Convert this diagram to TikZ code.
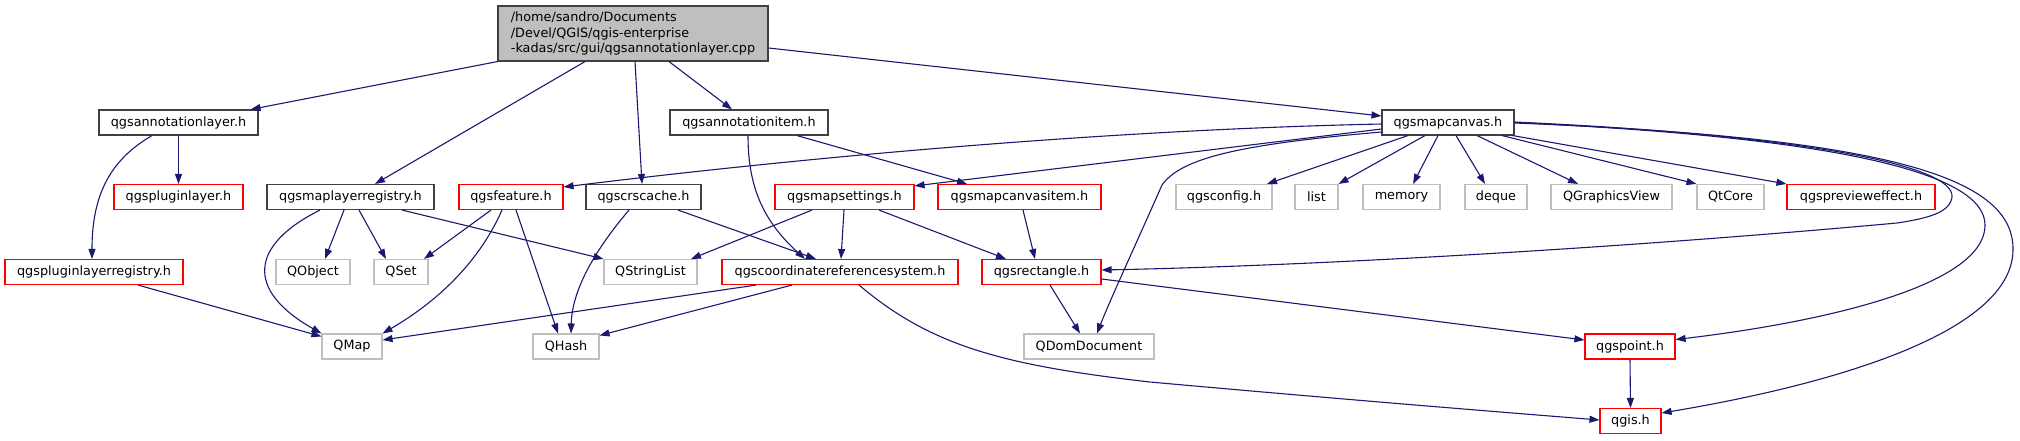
\documentclass[tikz,border=0pt]{standalone}
\usepackage{fontspec}
\setmainfont{DejaVu Sans}
\usetikzlibrary{arrows.meta}
\definecolor{edgec}{HTML}{191970}
\definecolor{greyc}{HTML}{BFBFBF}
\definecolor{darkc}{HTML}{404040}
\definecolor{redc}{HTML}{FF0000}
\tikzset{
  base/.style={rectangle, inner sep=0pt, minimum height=25pt, font=\fontsize{12.8pt}{15.5pt}\selectfont, text=black, line width=1.1pt, fill=white},
  docbox/.style={base, draw=darkc},
  redbox/.style={base, draw=redc},
  extbox/.style={base, draw=greyc},
  rootbox/.style={base, draw=darkc, fill=greyc, align=left, minimum height=55pt},
  dep/.style={draw=edgec, line width=1.1pt, -{Triangle[length=10pt,width=7pt]}},
}
\begin{document}
\begin{tikzpicture}[x=1pt,y=-1pt]
\useasboundingbox (0,0) rectangle (2020,440);
% row 1
\node[rootbox, minimum width=270pt] (root) at (633,33.5) {/home/sandro/Documents\\/Devel/QGIS/qgis-enterprise\\-kadas/src/gui/qgsannotationlayer.cpp};
% row 2
\node[docbox, minimum width=159pt] (alayer) at (178.5,122.5) {qgsannotationlayer.h};
\node[docbox, minimum width=158pt] (aitem) at (749,122.5) {qgsannotationitem.h};
\node[docbox, minimum width=132pt] (mcanvas) at (1448,122.5) {qgsmapcanvas.h};
% row 3
\node[redbox, minimum width=129pt] (plugin) at (178.5,197) {qgspluginlayer.h};
\node[docbox, minimum width=167pt] (mlreg) at (350.5,197) {qgsmaplayerregistry.h};
\node[redbox, minimum width=104pt] (feature) at (511,197) {qgsfeature.h};
\node[docbox, minimum width=115pt] (crscache) at (643.5,197) {qgscrscache.h};
\node[redbox, minimum width=139pt] (msettings) at (844.5,197) {qgsmapsettings.h};
\node[redbox, minimum width=163pt] (mcitem) at (1019.5,197) {qgsmapcanvasitem.h};
\node[extbox, minimum width=96pt] (config) at (1224,197) {qgsconfig.h};
\node[extbox, minimum width=43pt] (list) at (1316.5,197) {list};
\node[extbox, minimum width=77pt] (memory) at (1401.5,197) {memory};
\node[extbox, minimum width=62pt] (deque) at (1496,197) {deque};
\node[extbox, minimum width=121pt] (qgv) at (1611.5,197) {QGraphicsView};
\node[extbox, minimum width=67pt] (qtcore) at (1730.5,197) {QtCore};
\node[redbox, minimum width=148pt] (preview) at (1861,197) {qgspreview{}effect.h};
% row 4
\node[redbox, minimum width=178pt] (plreg) at (94,272) {qgspluginlayerregistry.h};
\node[extbox, minimum width=74pt] (qobject) at (313,272) {QObject};
\node[extbox, minimum width=54pt] (qset) at (401,272) {QSet};
\node[extbox, minimum width=93pt] (qsl) at (650.5,272) {QStringList};
\node[redbox, minimum width=236pt] (crs) at (840,272) {qgscoordinatereferencesystem.h};
\node[redbox, minimum width=119pt] (rect) at (1041.5,272) {qgsrectangle.h};
% row 5
\node[extbox, minimum width=60pt] (qmap) at (352,346.5) {QMap};
\node[extbox, minimum width=66pt] (qhash) at (566,346.5) {QHash};
\node[extbox, minimum width=130pt] (qdom) at (1089,346.5) {QDomDocument};
\node[redbox, minimum width=90pt] (point) at (1630,346.5) {qgspoint.h};
% row 6
\node[redbox, minimum width=61pt] (qgis) at (1630.5,421) {qgis.h};

% root edges
\draw[dep] (root.south west) -- ([xshift=-8pt]alayer.north east);
\draw[dep] ([xshift=-48pt]root.south) -- ([xshift=24.5pt]mlreg.north);
\draw[dep] ([xshift=2pt]root.south) -- ([xshift=-1.5pt]crscache.north);
\draw[dep] ([xshift=36pt]root.south) -- ([xshift=-17pt]aitem.north);
\draw[dep] ([yshift=-14.5pt]root.east) -- ([yshift=6.5pt]mcanvas.west);
% annotation layer
\draw[dep] (alayer.south) -- (plugin.north);
\draw[dep] ([xshift=-26.5pt]alayer.south) .. controls (110,160) and (92,195) .. ([xshift=-2pt]plreg.north);
% annotation item
\draw[dep] ([xshift=-1pt]aitem.south) .. controls (748,185) and (762,220) .. ([xshift=-35pt]crs.north);
\draw[dep] ([xshift=48pt]aitem.south) -- ([xshift=-52.5pt]mcitem.north);
% map canvas
\draw[dep] ([yshift=-1.5pt]mcanvas.west) .. controls (1100,130) and (800,158) .. ([yshift=-3pt]feature.north east);
\draw[dep] ([yshift=-6.5pt]mcanvas.west) -- ([yshift=-2pt]msettings.north east);
\draw[dep] ([yshift=-9.5pt]mcanvas.west) .. controls (1230,145) and (1180,160) .. (1162,185) .. controls (1140,235) and (1110,300) .. ([xshift=8pt]qdom.north);
\draw[dep] ([xshift=-40pt]mcanvas.south) -- ([xshift=43pt]config.north);
\draw[dep] ([xshift=-23pt]mcanvas.south) -- (list.north east);
\draw[dep] ([xshift=-10pt]mcanvas.south) -- ([xshift=11.5pt]memory.north);
\draw[dep] ([xshift=8pt]mcanvas.south) -- ([xshift=-11pt]deque.north);
\draw[dep] ([xshift=29pt]mcanvas.south) -- ([xshift=-33.5pt]qgv.north);
\draw[dep] ([xshift=54pt]mcanvas.south) -- (qtcore.north west);
\draw[dep] ([xshift=-2pt]mcanvas.south east) -- (preview.north west);
\draw[dep] ([yshift=0.5pt]mcanvas.east) .. controls (1800,135) and (1955,165) .. (1952,197) .. controls (1950,212) and (1930,218) .. (1897,223) .. controls (1600,250) and (1300,266) .. ([yshift=2pt]rect.east);
\draw[dep] (mcanvas.east) .. controls (1850,138) and (1985,175) .. (1985,225) .. controls (1985,290) and (1800,325) .. ([yshift=7pt]point.east);
\draw[dep] ([yshift=-0.5pt]mcanvas.east) .. controls (1900,138) and (2014,180) .. (2013,250) .. controls (2012,340) and (1800,390) .. ([yshift=8pt]qgis.east);
% map layer registry
\draw[dep] ([xshift=-30.5pt]mlreg.south) .. controls (250,245) and (245,290) .. (qmap.north west);
\draw[dep] ([xshift=-6.5pt]mlreg.south) -- ([xshift=12pt]qobject.north);
\draw[dep] ([xshift=8.5pt]mlreg.south) -- ([xshift=-15pt]qset.north);
\draw[dep] ([xshift=51.5pt]mlreg.south) -- (qsl.north west);
% feature
\draw[dep] ([xshift=-20pt]feature.south) -- ([xshift=23pt]qset.north);
\draw[dep] ([xshift=-9pt]feature.south) .. controls (480,260) and (440,300) .. (qmap.north east);
\draw[dep] ([xshift=5pt]feature.south) -- ([xshift=-8pt]qhash.north);
% crs cache
\draw[dep] ([xshift=-14.5pt]crscache.south) .. controls (595,250) and (572,290) .. ([xshift=5pt]qhash.north);
\draw[dep] ([xshift=34.5pt]crscache.south) -- ([xshift=-24pt]crs.north);
% map settings
\draw[dep] ([xshift=-32.5pt]msettings.south) -- ([xshift=40.5pt]qsl.north);
\draw[dep] ([xshift=-0.5pt]msettings.south) -- ([xshift=1pt]crs.north);
\draw[dep] ([xshift=34.5pt]msettings.south) -- ([xshift=-35.5pt]rect.north);
% map canvas item
\draw[dep] ([xshift=3.5pt]mcitem.south) -- ([xshift=-6.5pt]rect.north);
% crs
\draw[dep] ([xshift=-84pt]crs.south) -- ([yshift=6.5pt]qmap.east);
\draw[dep] ([xshift=-48pt]crs.south) -- ([yshift=-2pt]qhash.north east);
\draw[dep] ([xshift=19pt]crs.south) .. controls (930,345) and (1000,365) .. (1150,382) .. controls (1350,400) and (1500,412) .. ([yshift=1pt]qgis.west);
% rectangle
\draw[dep] ([xshift=8.5pt]rect.south) -- ([xshift=-9pt]qdom.north);
\draw[dep] ([yshift=-7pt]rect.east) -- ([yshift=6.5pt]point.west);
% plugin layer registry
\draw[dep] ([xshift=44pt]plreg.south) -- ([yshift=-3pt]qmap.north west);
% point
\draw[dep] (point.south) -- (qgis.north);
\end{tikzpicture}
\end{document}
